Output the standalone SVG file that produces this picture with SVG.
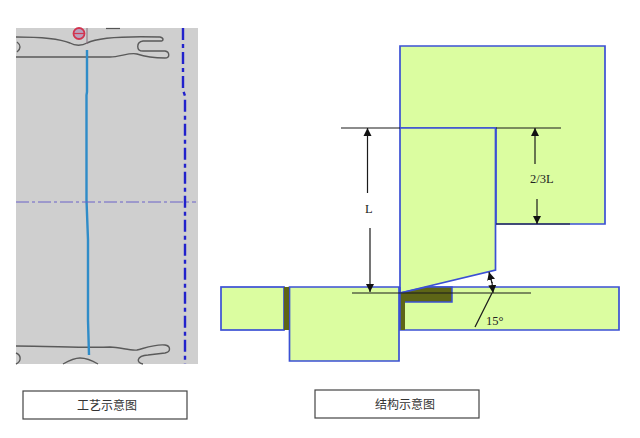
<svg xmlns="http://www.w3.org/2000/svg" width="640" height="438" viewBox="0 0 640 438">
<defs>
<marker id="ah" viewBox="0 0 10 10" refX="10" refY="5" markerWidth="8" markerHeight="9" markerUnits="userSpaceOnUse" orient="auto-start-reverse"><path d="M0 0L10 5L0 10Z" fill="#111"/></marker>
</defs>
<style>
.part{fill:#dbfda0;stroke:#3b50d4;stroke-width:1.7}
.dark{fill:#5d6516;stroke:none}
.dim{stroke:#1a1a1a;stroke-width:1.2;fill:none}
.arr{stroke:#1a1a1a;stroke-width:1.2;fill:none;marker-end:url(#ah)}
.t{font-family:"Liberation Serif",serif;font-size:12.500px;fill:#222}
.cap{font-family:"Noto Sans CJK SC",serif;font-size:12px;fill:#333;text-anchor:middle}
.box{fill:#fff;stroke:#444;stroke-width:1.2}
.sheet{fill:none;stroke:#5a5a5a;stroke-width:1.4}
</style>
<rect width="640" height="438" fill="#fff"/>
<g id="process-view">
<rect x="16" y="28" width="182" height="336" fill="#cfcfcf"/>
<path class="sheet" d="M16 37C40 37 60 39 70 43C75 46 82 46 87 43C97 38 125 36 160 37C164 38 164 41 160 41L143 41C136 42 136 51 143 51L165 51C170 52 170 58 165 58C155 58 143 56 137 54C130 52 120 57 110 57L16 57"/>
<path class="sheet" d="M16 346C50 346 85 348 110 347C120 347 130 351 137 350C145 348 155 344 165 345C171 346 171 352 165 353L148 355C136 356 136 363 143 364"/>
<path class="sheet" d="M63 364C70 360 75 358 80 358C87 358 93 361 98 364"/>
<path class="sheet" d="M16 353C21 355 22 361 16 364"/>
<path class="sheet" d="M17 42C21 45 21 49 17 52"/>
<line x1="106" y1="28.500" x2="120" y2="28.500" stroke="#555" stroke-width="1.200"/>
<circle cx="79" cy="33.500" r="5.500" fill="#b9a0bd" stroke="#d2344f" stroke-width="1.800"/>
<line x1="73" y1="33.500" x2="85" y2="33.500" stroke="#d2344f" stroke-width="1.200"/>
<path d="M87 28V44" stroke="#8a7080" stroke-width="1" fill="none"/>
<path d="M87 50V92L86.500 95V200L88 240V320L89 355" fill="none" stroke="#2f8cc8" stroke-width="2.400"/>
<line x1="16" y1="202" x2="196" y2="202" stroke="#6a62c8" stroke-width="1" stroke-dasharray="13 3 3 3"/>
<path d="M183 28V90L185 96V364" fill="none" stroke="#2222cc" stroke-width="2.400" stroke-dasharray="12 4 4 4"/>
</g>
<g id="upper-block"><path class="part" d="M400 46H605V224H496V128H400Z"/></g>
<g id="right-strip"><path class="part" d="M400 287H619V330H400Z"/></g>
<g id="left-strip"><rect class="part" x="221" y="287" width="63" height="43"/></g>
<g id="lower-block"><path class="part" d="M289.500 287H399V361H289.500Z"/></g>
<g id="punch"><path class="part" d="M400 128H495.500V270L400 293Z"/></g>
<g id="dark-parts">
<rect class="dark" x="284" y="287" width="5" height="43"/>
<path class="dark" d="M400 293L427 287H452V302H405V330H400Z"/>
<path d="M400 293L427 287H452V302H405" fill="none" stroke="#3b50d4" stroke-width="1.500"/>
<line x1="400" y1="287" x2="400" y2="330" stroke="#3b50d4" stroke-width="1.500"/>
</g>
<g id="connectors">
<line class="dim" x1="341" y1="128" x2="400" y2="128"/>
<line class="dim" x1="496" y1="128" x2="561" y2="128"/>
<line class="dim" x1="496" y1="224" x2="570" y2="224"/>
<line class="dim" x1="352" y1="293" x2="531" y2="293"/>
<line class="arr" x1="367.500" y1="193" x2="367.500" y2="128"/>
<line class="arr" x1="370" y1="228" x2="370" y2="292"/>
<line class="arr" x1="535" y1="164" x2="535" y2="128"/>
<line class="arr" x1="537" y1="199" x2="537" y2="224"/>
<line class="arr" x1="492" y1="283" x2="489" y2="272"/>
<line class="arr" x1="492" y1="282" x2="493" y2="293"/>
<line class="dim" x1="475" y1="327" x2="492" y2="293"/>
</g>
<g id="labels">
<text class="t" x="365" y="213">L</text>
<text class="t" x="530" y="183">2/3L</text>
<text class="t" x="486" y="325">15°</text>
</g>
<g id="caption-left"><rect class="box" x="23" y="391" width="164" height="28"/><text class="cap" x="107" y="410">工艺示意图</text></g>
<g id="caption-right"><rect class="box" x="315" y="390" width="164" height="28"/><text class="cap" x="405" y="409">结构示意图</text></g>
</svg>
